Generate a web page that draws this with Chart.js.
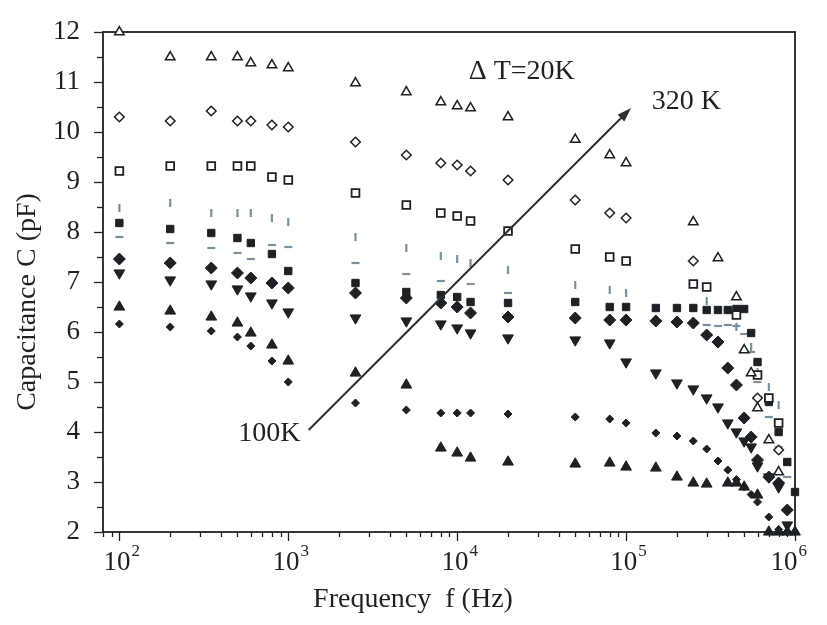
<!DOCTYPE html>
<html>
<head>
<meta charset="utf-8">
<script src="https://cdn.jsdelivr.net/npm/chart.js@4.4.0/dist/chart.umd.min.js"></script>
<style>
  html, body { margin: 0; padding: 0; background: #fff; }
  #wrap { width: 827px; height: 625px; }
</style>
</head>
<body>
<div id="wrap"><canvas id="capChart" width="827" height="625"></canvas></div>
<script>
'use strict';

// measuring frequencies (Hz), shared by every temperature
const freqHz = [100, 200, 350, 500, 600, 800, 1000,
  2500, 5000, 8000, 10000, 12000, 20000,
  50000, 80000, 100000,
  150000, 200000, 250000, 300000, 350000, 400000, 450000, 500000, 550000, 600000,
  700000, 800000, 900000, 1000000];

// capacitance (pF) per temperature, null = not measured
const c320 = [12.0, 11.5, 11.5, 11.5, 11.38, 11.34, 11.28, 10.98, 10.8, 10.6, 10.52, 10.48, 10.3, 9.85, 9.54, 9.38, null, null, 8.2, null, 7.48, null, 6.7, 5.64, 5.18, 4.48, 3.84, 3.2, null, null];
const c300 = [10.3, 10.22, 10.42, 10.22, 10.22, 10.14, 10.1, 9.8, 9.54, 9.38, 9.34, 9.22, 9.04, 8.64, 8.38, 8.28, null, null, 7.42, null, null, null, null, null, null, 4.68, null, 3.64, null, null];
const c280 = [9.22, 9.32, 9.32, 9.32, 9.32, 9.1, 9.04, 8.78, 8.54, 8.38, 8.32, 8.22, 8.02, 7.66, 7.5, 7.42, null, null, 6.96, 6.9, null, null, 6.34, null, null, 5.14, 4.68, 4.18, null, null];
const c260 = [8.48, 8.58, 8.38, 8.38, 8.38, 8.28, 8.2, 7.9, 7.68, 7.52, 7.46, 7.38, 7.24, 6.94, 6.84, 6.78, null, null, null, 6.62, null, null, 6.1, null, 5.7, 5.2, 4.9, 4.54, null, null];
const c240 = [8.18, 8.06, 7.98, 7.88, 7.78, 7.56, 7.22, 6.98, 6.8, 6.74, 6.7, 6.6, 6.58, 6.6, 6.5, 6.5, 6.48, 6.48, 6.48, 6.44, 6.44, 6.44, 6.46, 6.46, 5.98, 5.4, 4.6, 4.0, 3.4, 2.8];
const c220 = [7.9, 7.78, 7.68, 7.58, 7.46, 7.74, 7.7, 7.38, 7.16, 7.02, null, 6.96, 6.78, null, null, null, null, null, null, 6.14, 6.12, 6.14, 6.12, 5.96, 5.6, 5.0, 4.3, 3.7, 3.1, null];
const c200 = [7.46, 7.38, 7.28, 7.18, 7.08, 6.98, 6.88, 6.78, 6.68, 6.58, 6.5, 6.38, 6.3, 6.28, 6.24, 6.24, 6.22, 6.2, 6.18, 5.94, 5.8, 5.28, 4.94, 4.28, 3.9, 3.44, 3.1, 2.98, 2.44, null];
const c180 = [7.18, 7.04, 6.96, 6.86, 6.72, 6.58, 6.4, 6.28, 6.22, 6.16, 6.08, 5.98, 5.88, 5.84, 5.78, 5.4, 5.18, 4.98, 4.86, 4.68, 4.5, 4.18, 4.0, 3.82, 3.7, 3.32, 3.1, 2.9, 2.14, null];
const c160 = [6.5, 6.42, 6.3, 6.18, 5.98, 5.74, 5.42, 5.18, 4.94, null, null, null, null, null, null, null, null, null, null, null, null, null, null, null, null, null, null, null, null, null];
const c140 = [6.16, 6.1, 6.02, 5.9, 5.72, 5.42, 5.0, 4.58, 4.44, 4.38, 4.38, 4.38, 4.36, 4.3, 4.26, 4.18, 3.98, 3.92, 3.82, 3.66, 3.42, 3.24, 3.05, 2.9, 2.75, 2.6, 2.3, 2.05, 2.0, 2.0];
const c100 = [null, null, null, null, null, null, null, null, null, 3.68, 3.58, 3.48, 3.4, 3.36, 3.38, 3.3, 3.28, 3.1, 2.98, 2.96, null, 2.98, 2.98, 2.9, null, 2.74, 2.0, 2.0, 2.0, 2.0];

const xMin = 80;
const xMax = 1e6;
const yMin = 2;
const yMax = 12;
const xPowers = [2, 3, 4, 5, 6];

const xTitle = 'Frequency  f (Hz)';
const yTitle = 'Capacitance C (pF)';

// annotation anchors in data units
const arrowFrom = [1320, 4.04];
const arrowTo = [1.07e5, 10.48];
const notes = [
  { text: '100K', f: 1180, c: 3.96, align: 'right' },
  { text: '320 K', f: 1.42e5, c: 10.6, align: 'left' },
  { text: 'Δ T=20K', f: 1.17e4, c: 11.2, align: 'left' }
];

const serif = '"Liberation Serif", "Times New Roman", serif';
const ink = '#1d2125';
const pale = '#7b909c';

function pairs(vals) {
  const out = [];
  for (let i = 0; i < freqHz.length; i++) {
    if (vals[i] !== null) out.push({ x: freqHz[i], y: vals[i] });
  }
  return out;
}

function series(label, vals, style, opts) {
  return Object.assign({
    label: label,
    data: pairs(vals),
    pointStyle: style,
    pointRadius: 5,
    pointBorderColor: ink,
    pointBackgroundColor: ink,
    pointBorderWidth: 1,
    showLine: false,
    clip: false
  }, opts);
}

const datasets = [
  series('320K', c320, 'triangle', { pointBackgroundColor: '#fff', pointBorderWidth: 1.5, pointRadius: 5.5 }),
  series('300K', c300, 'rectRot', { pointBackgroundColor: '#fff', pointBorderWidth: 1.5, pointRadius: 4.8 }),
  series('280K', c280, 'rect', { pointBackgroundColor: '#fff', pointBorderWidth: 1.8, pointRadius: 5.5 }),
  series('260K', c260, 'line', { pointRotation: 90, pointBorderColor: pale, pointBorderWidth: 2.2, pointRadius: 4 }),
  series('240K', c240, 'rect', { pointRadius: 5.2 }),
  series('220K', c220, 'line', { pointBorderColor: pale, pointBorderWidth: 2.2, pointRadius: 4 }),
  series('200K', c200, 'rectRot', { pointRadius: 6 }),
  series('180K', c180, 'triangle', { pointRotation: 180, pointRadius: 6.2 }),
  series('160K', c160, 'triangle', { pointRadius: 6.2 }),
  series('140K', c140, 'rectRot', { pointRadius: 4 }),
  series('100K', c100, 'triangle', { pointRadius: 6.2 })
];

const framePlugin = {
  id: 'frame',
  beforeDatasetsDraw(chart) {
    const { ctx, chartArea: a, scales: { x, y } } = chart;
    ctx.save();
    ctx.strokeStyle = ink;
    ctx.lineWidth = 1.8;
    ctx.strokeRect(a.left, a.top, a.right - a.left, a.bottom - a.top);

    ctx.lineWidth = 1.3;
    for (let v = yMin; v <= yMax + 1e-9; v += 0.5) {
      const py = Math.round(y.getPixelForValue(v)) + 0.5;
      const len = Number.isInteger(v) ? 9 : 6;
      ctx.beginPath();
      ctx.moveTo(a.left - len, py);
      ctx.lineTo(a.left, py);
      ctx.stroke();
    }
    for (let e = 1; e <= 6; e++) {
      for (let m = 1; m <= 9; m++) {
        const f = m * Math.pow(10, e);
        if (f < xMin || f > xMax) continue;
        const px = Math.round(x.getPixelForValue(f)) + 0.5;
        const len = m === 1 ? 9 : 5;
        ctx.beginPath();
        ctx.moveTo(px, a.bottom);
        ctx.lineTo(px, a.bottom + len);
        ctx.stroke();
      }
    }

    // x tick labels as 10 with a raised exponent
    ctx.fillStyle = ink;
    ctx.textBaseline = 'alphabetic';
    ctx.textAlign = 'left';
    xPowers.forEach(p => {
      const px = x.getPixelForValue(Math.pow(10, p));
      ctx.font = '27px ' + serif;
      const wBase = ctx.measureText('10').width;
      ctx.font = '17px ' + serif;
      const wExp = ctx.measureText(String(p)).width;
      let start = px - (wBase + wExp) / 2 + 2;
      if (start + wBase + wExp > 806) start = 806 - wBase - wExp;
      ctx.font = '27px ' + serif;
      ctx.fillText('10', start, a.bottom + 38);
      ctx.font = '17px ' + serif;
      ctx.fillText(String(p), start + wBase + 1, a.bottom + 24);
    });

    // axis titles
    ctx.font = '28px ' + serif;
    ctx.textAlign = 'center';
    ctx.textBaseline = 'middle';
    ctx.fillText(xTitle, 413, 600);
    ctx.save();
    ctx.translate(28, 302);
    ctx.rotate(-Math.PI / 2);
    ctx.fillText(yTitle, 0, 0);
    ctx.restore();
    ctx.restore();
  },
  afterDatasetsDraw(chart) {
    const { ctx, scales: { x, y } } = chart;
    ctx.save();
    const x0 = x.getPixelForValue(arrowFrom[0]);
    const y0 = y.getPixelForValue(arrowFrom[1]);
    const x1 = x.getPixelForValue(arrowTo[0]);
    const y1 = y.getPixelForValue(arrowTo[1]);
    const ang = Math.atan2(y1 - y0, x1 - x0);
    const head = 15;
    ctx.strokeStyle = '#2b3033';
    ctx.fillStyle = '#2b3033';
    ctx.lineWidth = 2;
    ctx.beginPath();
    ctx.moveTo(x0, y0);
    ctx.lineTo(x1 - Math.cos(ang) * head * 0.8, y1 - Math.sin(ang) * head * 0.8);
    ctx.stroke();
    ctx.beginPath();
    ctx.moveTo(x1, y1);
    ctx.lineTo(x1 - head * Math.cos(ang - 0.32), y1 - head * Math.sin(ang - 0.32));
    ctx.lineTo(x1 - head * Math.cos(ang + 0.32), y1 - head * Math.sin(ang + 0.32));
    ctx.closePath();
    ctx.fill();

    ctx.fillStyle = ink;
    ctx.font = '28px ' + serif;
    ctx.textBaseline = 'middle';
    notes.forEach(n => {
      ctx.textAlign = n.align;
      ctx.fillText(n.text, x.getPixelForValue(n.f), y.getPixelForValue(n.c));
    });
    ctx.restore();
  }
};

new Chart(document.getElementById('capChart'), {
  type: 'scatter',
  data: { datasets: datasets },
  options: {
    responsive: false,
    animation: false,
    devicePixelRatio: 1,
    layout: { padding: { top: 32, right: 32, left: 0, bottom: 0 } },
    plugins: {
      legend: { display: false },
      tooltip: { enabled: false }
    },
    scales: {
      x: {
        type: 'logarithmic',
        min: xMin,
        max: xMax,
        grid: { display: false },
        border: { display: false },
        ticks: { display: false },
        afterFit(scale) { scale.height = 93; }
      },
      y: {
        type: 'linear',
        min: yMin,
        max: yMax,
        grid: { display: false },
        border: { display: false },
        ticks: {
          stepSize: 1,
          padding: 15,
          color: ink,
          font: { family: serif, size: 27 }
        },
        afterFit(scale) { scale.width = 103; }
      }
    }
  },
  plugins: [framePlugin]
});
</script>
</body>
</html>
